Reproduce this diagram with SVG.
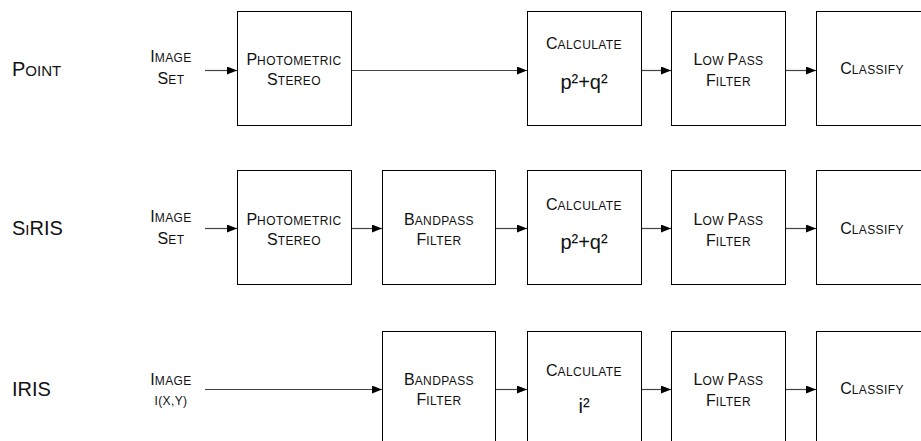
<svg xmlns="http://www.w3.org/2000/svg" width="921" height="441" viewBox="0 0 921 441">
<style>
text{font-family:"Liberation Sans",Arial,sans-serif;fill:#111}
.lbl{font-size:20px}
.big{font-size:16px}
.sm{font-size:12px;letter-spacing:0.4px}
.ls{font-size:15px}
.mid{text-anchor:middle}
.math{font-size:20px;text-anchor:middle}
.box{fill:#fff;stroke:#000;stroke-width:1}
.con{stroke:#444;stroke-width:1.2;fill:none;marker-end:url(#ah)}
</style>
<defs>
<marker id="ah" markerWidth="10" markerHeight="8" refX="10" refY="4" orient="auto" markerUnits="userSpaceOnUse">
<path d="M0,0 L10,4 L0,8 Z" fill="#000"/>
</marker>
</defs>
<g id="labels">
<text x="12" y="76" class="lbl">P<tspan class="ls">OINT</tspan></text>
<text x="12" y="235" class="lbl">S<tspan class="ls">I</tspan>RIS</text>
<text x="12" y="396" class="lbl">IRIS</text>
</g>
<g id="in1"><text x="171" y="62" class="mid big">I<tspan class="sm">MAGE</tspan></text><text x="171" y="84" class="mid big">S<tspan class="sm">ET</tspan></text></g>
<g id="in2"><text x="171" y="222" class="mid big">I<tspan class="sm">MAGE</tspan></text><text x="171" y="244" class="mid big">S<tspan class="sm">ET</tspan></text></g>
<g id="in3"><text x="171" y="385" class="mid big">I<tspan class="sm">MAGE</tspan></text><text x="171" y="405" class="mid sm">I(X,Y)</text></g>

<g id="r1-photo"><rect class="box" x="237.5" y="11.5" width="114" height="114"/><text x="294" y="65" class="mid big">P<tspan class="sm">HOTOMETRIC</tspan></text><text x="294" y="85" class="mid big">S<tspan class="sm">TEREO</tspan></text></g>
<g id="r1-calc"><rect class="box" x="527.5" y="11.5" width="114" height="114"/><text x="584" y="49" class="mid big">C<tspan class="sm">ALCULATE</tspan></text><text x="584" y="89" class="math">p²+q²</text></g>
<g id="r1-lpf"><rect class="box" x="671.5" y="11.5" width="114" height="114"/><text x="728.5" y="65" class="mid big">L<tspan class="sm">OW </tspan>P<tspan class="sm">ASS</tspan></text><text x="728.5" y="86" class="mid big">F<tspan class="sm">ILTER</tspan></text></g>
<g id="r1-cls"><rect class="box" x="816.5" y="11.5" width="114" height="114"/><text x="872" y="74" class="mid big">C<tspan class="sm">LASSIFY</tspan></text></g>

<g id="r2-photo"><rect class="box" x="237.5" y="170.5" width="114" height="114"/><text x="294" y="225" class="mid big">P<tspan class="sm">HOTOMETRIC</tspan></text><text x="294" y="245" class="mid big">S<tspan class="sm">TEREO</tspan></text></g>
<g id="r2-bp"><rect class="box" x="382.5" y="170.5" width="113" height="114"/><text x="439" y="225" class="mid big">B<tspan class="sm">ANDPASS</tspan></text><text x="439" y="245" class="mid big">F<tspan class="sm">ILTER</tspan></text></g>
<g id="r2-calc"><rect class="box" x="527.5" y="170.5" width="114" height="114"/><text x="584" y="210" class="mid big">C<tspan class="sm">ALCULATE</tspan></text><text x="584" y="249" class="math">p²+q²</text></g>
<g id="r2-lpf"><rect class="box" x="671.5" y="170.5" width="114" height="114"/><text x="728.5" y="225" class="mid big">L<tspan class="sm">OW </tspan>P<tspan class="sm">ASS</tspan></text><text x="728.5" y="246" class="mid big">F<tspan class="sm">ILTER</tspan></text></g>
<g id="r2-cls"><rect class="box" x="816.5" y="170.5" width="114" height="114"/><text x="872" y="234" class="mid big">C<tspan class="sm">LASSIFY</tspan></text></g>

<g id="r3-bp"><rect class="box" x="382.5" y="331.5" width="113" height="114"/><text x="439" y="385" class="mid big">B<tspan class="sm">ANDPASS</tspan></text><text x="439" y="405" class="mid big">F<tspan class="sm">ILTER</tspan></text></g>
<g id="r3-calc"><rect class="box" x="527.5" y="331.5" width="114" height="114"/><text x="584" y="376" class="mid big">C<tspan class="sm">ALCULATE</tspan></text><text x="584" y="413" class="math">i²</text></g>
<g id="r3-lpf"><rect class="box" x="671.5" y="331.5" width="114" height="114"/><text x="728.5" y="385" class="mid big">L<tspan class="sm">OW </tspan>P<tspan class="sm">ASS</tspan></text><text x="728.5" y="406" class="mid big">F<tspan class="sm">ILTER</tspan></text></g>
<g id="r3-cls"><rect class="box" x="816.5" y="331.5" width="114" height="114"/><text x="872" y="394" class="mid big">C<tspan class="sm">LASSIFY</tspan></text></g>

<g id="connectors">
<path class="con" d="M205,70.5 H237"/>
<path class="con" d="M352,70.5 H527"/>
<path class="con" d="M642,70.5 H671"/>
<path class="con" d="M786,70.5 H816"/>
<path class="con" d="M205,228.5 H237"/>
<path class="con" d="M352,228.5 H382"/>
<path class="con" d="M496,228.5 H527"/>
<path class="con" d="M642,228.5 H671"/>
<path class="con" d="M786,228.5 H816"/>
<path class="con" d="M205,389.5 H382"/>
<path class="con" d="M496,389.5 H527"/>
<path class="con" d="M642,389.5 H671"/>
<path class="con" d="M786,389.5 H816"/>
</g>
</svg>
